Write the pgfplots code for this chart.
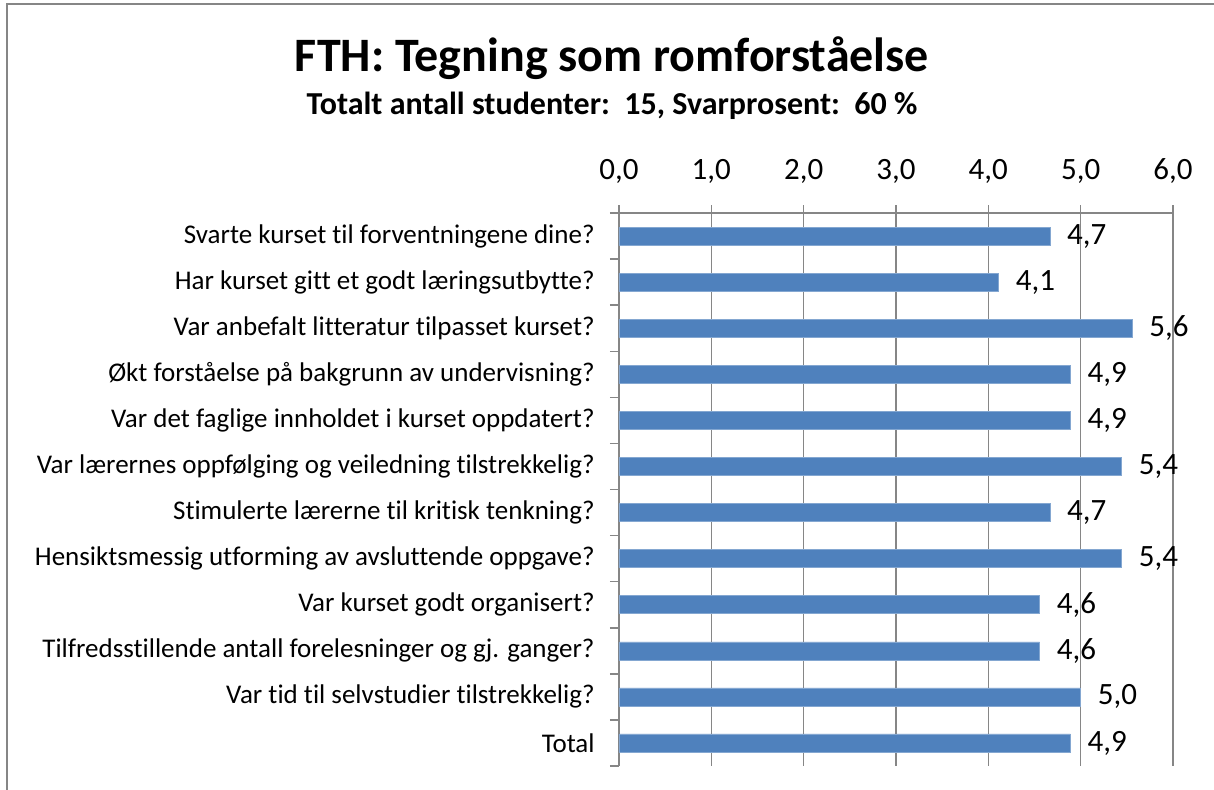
\documentclass[border=0pt]{standalone}
\usepackage{fontspec}
\setmainfont{Carlito}[Ligatures={NoCommon}]
\usepackage{pgfplots}
\pgfplotsset{compat=1.18}
\definecolor{barblue}{HTML}{4F81BD}
\definecolor{gridgray}{HTML}{868686}
\pgfplotstableread{
idx value
0 4.667
1 4.111
2 5.556
3 4.889
4 4.889
5 5.444
6 4.667
7 5.444
8 4.556
9 4.556
10 5.000
11 4.889
}\datatable
\begin{document}
\begin{tikzpicture}
\path[use as bounding box] (-309.5pt,-11.5pt) rectangle (297.5pt,383pt);
\draw[gridgray, line width=1pt] (-306pt,-12pt) -- (-306pt,381pt) -- (300pt,381pt);
\node[font=\fontsize{24}{28}\selectfont\bfseries, anchor=base] at (-3.5pt,347pt) {FTH: Tegning som romforståelse};
\node[font=\fontsize{16}{19}\selectfont\bfseries, anchor=base] at (-3.5pt,326pt) {Totalt antall studenter:\ \ 15, Svarprosent:\ \ 60 \%};
\begin{axis}[
  at={(0pt,0pt)}, anchor=south west,
  width=277pt, height=276.5pt, scale only axis,
  xbar, bar width=9pt,
  xmin=0, xmax=6, xtick={0,...,6},
  ymin=-0.5, ymax=11.5, y dir=reverse,
  ytick={0,...,11},
  yticklabels={Svarte kurset til forventningene dine?,Har kurset gitt et godt læringsutbytte?,Var anbefalt litteratur tilpasset kurset?,Økt forståelse på bakgrunn av undervisning?,Var det faglige innholdet i kurset oppdatert?,Var lærernes oppfølging og veiledning tilstrekkelig?,Stimulerte lærerne til kritisk tenkning?,Hensiktsmessig utforming av avsluttende oppgave?,Var kurset godt organisert?,Tilfredsstillende antall forelesninger og gj. ganger?,Var tid til selvstudier tilstrekkelig?,Total},
  minor ytick={-0.5,0.5,...,11.5},
  axis x line*=top, axis y line*=left,
  axis line style={gridgray, line width=0.75pt},
  tick align=outside,
  major tick length=4pt, minor tick length=4.5pt,
  every major y tick/.append style={draw=none},
  every minor y tick/.append style={gridgray, line width=0.75pt},
  every major x tick/.append style={gridgray, line width=0.75pt},
  xmajorgrids, major grid style={gridgray, line width=0.75pt},
  /pgf/number format/.cd, use comma, fixed, fixed zerofill, precision=1, assume math mode=true,
  /pgfplots/.cd,
  xticklabel style={font=\fontsize{15.5}{18}\selectfont, text=black, anchor=base, yshift=13pt},
  yticklabel style={font=\fontsize{13.5}{16}\selectfont, text=black, anchor=east, inner sep=0pt, xshift=-8pt},
  point meta=x,
  nodes near coords,
  every node near coord/.append style={anchor=west, inner sep=0pt, xshift=8.5pt, font=\fontsize{15.5}{18}\selectfont, text=black},
]
\addplot[fill=barblue, draw=barblue!70!white, line width=0.3pt] table[x=value, y=idx] {\datatable};
\end{axis}
\end{tikzpicture}
\end{document}
